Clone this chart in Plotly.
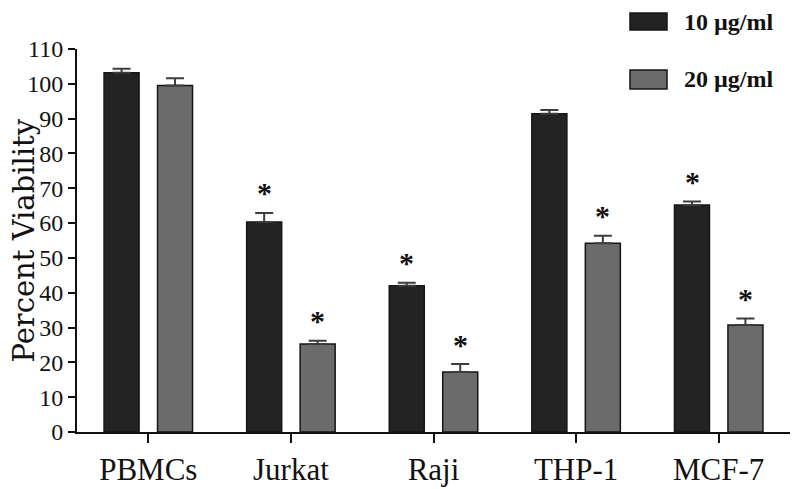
import plotly.graph_objects as go

categories = ["PBMCs", "Jurkat", "Raji", "THP-1", "MCF-7"]
series_names = ["10 µg/ml", "20 µg/ml"]
values_10 = [103.2, 60.3, 42.0, 91.4, 65.2]
errors_10 = [1.1, 2.6, 0.9, 1.1, 1.0]
values_20 = [99.5, 25.3, 17.2, 54.2, 30.7]
errors_20 = [2.1, 0.9, 2.3, 2.2, 1.9]
sig_10 = [False, True, True, False, True]
sig_20 = [False, True, True, True, True]
y_ticks = list(range(0, 111, 10))
y_title = "Percent Viability"

colors = ["#232323", "#6b6b6b"]
serif = "'Liberation Serif', 'Times New Roman', serif"

fig = go.Figure()
for name, vals, errs, col in [(series_names[0], values_10, errors_10, colors[0]),
                              (series_names[1], values_20, errors_20, colors[1])]:
    fig.add_trace(go.Bar(
        x=categories, y=vals, name=name,
        marker=dict(color=col, line=dict(color="#161616", width=1.5)),
        error_y=dict(type="data", array=errs, arrayminus=[0] * len(errs), symmetric=False,
                     color="#3c3c3c", thickness=2, width=9),
        showlegend=False,
    ))

# significance asterisks
for i, cat in enumerate(categories):
    for vals, errs, sig, shift in [(values_10, errors_10, sig_10, -26.7),
                                   (values_20, errors_20, sig_20, 26.7)]:
        if sig[i]:
            fig.add_annotation(x=cat, y=vals[i] + errs[i], text="*", showarrow=False,
                               xshift=shift, yshift=20, yanchor="middle",
                               font=dict(family=serif, size=30, color="#111", weight="bold"))

# legend (drawn manually to match symbol size/spacing)
leg_rows = [(1.094, 1.0496, 1.0718), (0.945, 0.8956, 0.9204)]
for (y0, y1, yt), name, col in zip(leg_rows, series_names, colors):
    fig.add_shape(type="rect", xref="paper", yref="paper", x0=0.7756, x1=0.8275,
                  y0=y1, y1=y0, fillcolor=col, line=dict(color="#161616", width=1.5))
    fig.add_annotation(xref="paper", yref="paper", x=0.8485, y=yt, text=name,
                       showarrow=False, xanchor="left", yanchor="middle",
                       font=dict(family=serif, size=24, color="#111", weight="bold"))

# y-axis title as rotated annotation (sits closer than standoff allows)
fig.add_annotation(xref="paper", yref="paper", x=-0.0757, y=0.5, text=y_title,
                   textangle=-90, showarrow=False, xanchor="center", yanchor="middle",
                   font=dict(family="'DejaVu Serif', serif", size=29, color="#111"))

# the page body adds an 8px offset, so margins are set 8px smaller on top/left
fig.update_layout(
    width=800, height=489,
    margin=dict(l=69, r=18, t=41, b=65),
    paper_bgcolor="white", plot_bgcolor="white",
    barmode="group", bargap=0.25, bargroupgap=0.345,
    font=dict(family=serif, color="#111"),
)
fig.update_xaxes(
    range=[-0.5, 4.5], showline=True, linecolor="#111", linewidth=2,
    ticks="outside", ticklen=9, tickwidth=2, tickcolor="#111",
    tickfont=dict(family=serif, size=31, color="#111"),
    showgrid=False, zeroline=False, automargin=False,
)
fig.update_yaxes(
    range=[0, 110], tickvals=y_ticks, showline=True, linecolor="#111", linewidth=2,
    ticks="outside", ticklen=7, tickwidth=2, tickcolor="#111",
    tickfont=dict(family=serif, size=24, color="#111"),
    showgrid=False, zeroline=False, automargin=False,
)

fig.write_html("out.html")
